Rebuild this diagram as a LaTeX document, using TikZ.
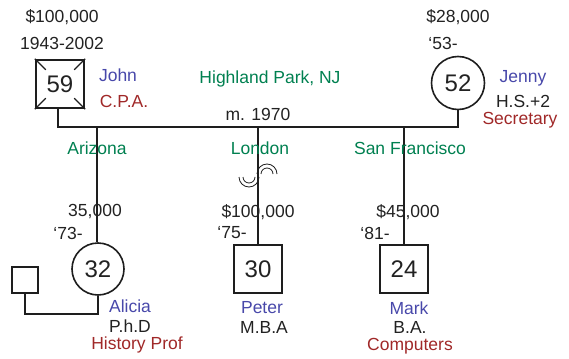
\documentclass[tikz,border=0pt]{standalone}
\usepackage{fontspec}
\setmainfont{Liberation Sans}
\definecolor{txt}{RGB}{34,34,34}
\definecolor{nblue}{RGB}{72,72,170}
\definecolor{nred}{RGB}{160,40,40}
\definecolor{ngreen}{RGB}{0,128,80}
\definecolor{ln}{RGB}{30,30,30}
\tikzset{
  lbl/.style={inner sep=0pt, text=txt, font=\fontsize{17.5}{20}\selectfont},
  bl/.style={lbl, text=nblue},
  rd/.style={lbl, text=nred},
  gr/.style={lbl, text=ngreen},
  male/.style={draw=ln, line width=1.6pt, minimum size=48pt, inner sep=0pt, text=txt, font=\fontsize{24}{26}\selectfont},
  female/.style={draw=ln, circle, line width=1.6pt, minimum size=53pt, inner sep=0pt, text=txt, font=\fontsize{24}{26}\selectfont},
  conn/.style={draw=ln, line width=1.6pt},
}
\begin{document}
\begin{tikzpicture}[x=1pt,y=-1pt]
\useasboundingbox (0,0) rectangle (569,358);
% parents
\node[male, line width=2.4pt] (john) at (60,84) {59};
\draw[ln, line width=1.2pt] (john.north west) -- ++(11,11);
\draw[ln, line width=1.2pt] (john.north east) -- ++(-11,11);
\draw[ln, line width=1.2pt] (john.south west) -- ++(11,-11);
\draw[ln, line width=1.2pt] (john.south east) -- ++(-11,-11);
\node[female] (jenny) at (458,83) {52};
\coordinate (jl) at (58,127);
\coordinate (jr) at (458,127);
\draw[conn] (john.south -| jl) -- (jl) -- (jr) -- (jenny.south);
% children
\node[female, minimum size=52pt] (alicia) at (98,269) {32};
\node[male] (peter) at (258,269) {30};
\node[male] (mark) at (404,269) {24};
\coordinate (ta) at (97,127);
\coordinate (tp) at (258,127);
\coordinate (tm) at (404,127);
\draw[conn] (ta) -- (ta |- alicia.north);
\draw[conn] (tp) -- (peter.north);
\draw[conn] (tm) -- (mark.north);
% Alicia's partner
\node[draw=ln, line width=1.6pt, minimum size=26pt, inner sep=0pt] (sp) at (25,280) {};
\coordinate (sb) at (25,314);
\draw[conn] (sp.south) -- (sb) -- (sb -| alicia.south) -- (alicia.south);
% squiggle
\draw[ln, line width=0.8pt] (239,177) arc[start angle=180, end angle=0, radius=10];
\draw[ln, line width=0.8pt] (243,177) arc[start angle=180, end angle=0, radius=6];
\draw[ln, line width=0.8pt] (257,174) arc[start angle=180, end angle=360, radius=10];
\draw[ln, line width=0.8pt] (261,174) arc[start angle=180, end angle=360, radius=6];
% texts
\node[lbl] (t1) at (62,17) {\$100,000};
\node[lbl] (t2) at (62,43) {1943-2002};
\node[bl] (t3) at (118,75) {John};
\node[rd] (t4) at (124,101) {C.P.A.};
\node[lbl] (t5) at (458,17) {\$28,000};
\node[lbl] (t6) at (443,43) {‘53-};
\node[bl] (t7) at (523,78) {Jenny};
\node[lbl] (t8) at (523,101) {H.S.+2};
\node[rd] (t9) at (520,120) {Secretary};
\node[gr] (t10) at (270,79) {Highland Park, NJ};
\node[lbl] (t11) at (258,114) {m. 1970};
\node[gr] (t12) at (97,148) {Arizona};
\node[gr] (t13) at (260,148) {London};
\node[gr] (t14) at (410,148) {San Francisco};
\node[lbl] (t15) at (95,212) {35,000};
\node[lbl] (t16) at (68,233) {‘73-};
\node[bl] (t17) at (130,306) {Alicia};
\node[lbl] (t18) at (130,326) {P.h.D};
\node[rd] (t19) at (137,345) {History Prof};
\node[lbl] (t20) at (258,212) {\$100,000};
\node[lbl] (t21) at (232,233) {‘75-};
\node[bl] (t22) at (262,308) {Peter};
\node[lbl] (t23) at (264,327) {M.B.A};
\node[lbl] (t24) at (408,212) {\$45,000};
\node[lbl] (t25) at (375,233) {‘81-};
\node[bl] (t26) at (409,308) {Mark};
\node[lbl] (t27) at (410,327) {B.A.};
\node[rd] (t28) at (410,346) {Computers};
\end{tikzpicture}
\end{document}
